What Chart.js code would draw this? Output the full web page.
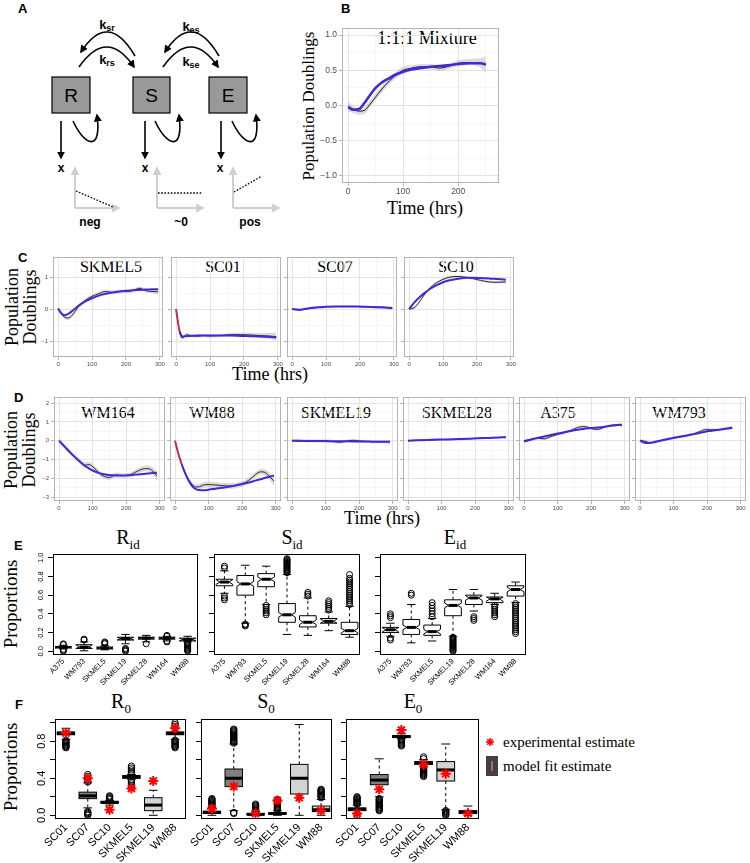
<!DOCTYPE html>
<html><head><meta charset="utf-8"><title>Figure</title>
<script src="https://cdn.jsdelivr.net/npm/chart.js@4.4.1/dist/chart.umd.min.js"></script>
<style>
html,body{margin:0;padding:0;background:#fff;}
#root{position:relative;width:750px;height:863px;overflow:hidden;background:#fff;font-family:"Liberation Sans",Arial,sans-serif;color:#000;}
#root canvas{position:absolute;}
.t{position:absolute;white-space:nowrap;line-height:1;}
.c{transform:translate(-50%,-50%);}
.v{transform:translate(-50%,-50%) rotate(-90deg);text-align:center;}
.serif{font-family:"Liberation Serif","Times New Roman",serif;}
.pl{font-weight:bold;font-size:13px;}
sub{font-size:65%;vertical-align:-0.35em;line-height:0;}
</style></head><body><div id="root">
<svg width="300" height="235" style="position:absolute;left:0;top:0" font-family="Liberation Sans, Arial, sans-serif">
<defs>
<marker id="ak" viewBox="0 0 10 10" refX="8" refY="5" markerWidth="5" markerHeight="5" orient="auto"><path d="M0,0L10,5L0,10z" fill="#000"/></marker>
<marker id="ag" viewBox="0 0 10 10" refX="8" refY="5" markerWidth="4.5" markerHeight="4.5" orient="auto"><path d="M0,0L10,5L0,10z" fill="#cfcfcf"/></marker>
</defs>
<text x="18" y="13" font-size="13" font-weight="bold">A</text>
<g fill="none" stroke="#000" stroke-width="1.6">
<path d="M135,56 Q108,10 81,52" marker-end="url(#ak)"/>
<path d="M79,67 Q107,27 134,67" marker-end="url(#ak)"/>
<path d="M219,56 Q192,10 165,52" marker-end="url(#ak)"/>
<path d="M163,67 Q191,27 218,67" marker-end="url(#ak)"/>
<path d="M61,121 L61,158" marker-end="url(#ak)"/>
<path d="M145,121 L145,158" marker-end="url(#ak)"/>
<path d="M221,121 L221,158" marker-end="url(#ak)"/>
<path d="M73,121 C85,147 102,152 97,115" marker-end="url(#ak)"/>
<path d="M155,121 C167,147 184,152 179,115" marker-end="url(#ak)"/>
<path d="M232,121 C244,147 261,152 256,115" marker-end="url(#ak)"/>
</g>
<g fill="#999" stroke="#000" stroke-width="1.2">
<rect x="52" y="77" width="38" height="36"/><rect x="133" y="77" width="37" height="36"/><rect x="209" y="77" width="38" height="36"/>
</g>
<g font-size="19" text-anchor="middle"><text x="71" y="102">R</text><text x="151.5" y="102">S</text><text x="228" y="102">E</text></g>
<g font-size="13" font-weight="bold" text-anchor="middle">
<text x="107" y="29">k<tspan font-size="9" dy="2">sr</tspan></text>
<text x="107" y="64">k<tspan font-size="9" dy="2">rs</tspan></text>
<text x="191" y="31">k<tspan font-size="9" dy="2">es</tspan></text>
<text x="191" y="66">k<tspan font-size="9" dy="2">se</tspan></text>
</g>
<g font-size="12" font-weight="bold" text-anchor="middle"><text x="61" y="172">x</text><text x="145" y="172">x</text><text x="220" y="172">x</text></g>
<g stroke="#cfcfcf" stroke-width="2" fill="none">
<path d="M75,208 L75,168" marker-end="url(#ag)"/><path d="M75,208 L119,208" marker-end="url(#ag)"/>
<path d="M157,208 L157,168" marker-end="url(#ag)"/><path d="M157,208 L203,208" marker-end="url(#ag)"/>
<path d="M233,208 L233,168" marker-end="url(#ag)"/><path d="M233,208 L279,208" marker-end="url(#ag)"/>
</g>
<g stroke="#000" stroke-width="1.3" stroke-dasharray="1.6,1.6" fill="none">
<path d="M76,191 L113,207"/><path d="M158,193 L202,193"/><path d="M234,192 L262,176"/>
</g>
<g font-size="12" font-weight="bold" text-anchor="middle"><text x="90" y="226">neg</text><text x="181" y="226">~0</text><text x="250" y="226">pos</text></g>
</svg>

<div class="t pl" style="left:341px;top:2px">B</div>
<div class="t pl" style="left:18px;top:251px">C</div>
<div class="t pl" style="left:14px;top:391px">D</div>
<div class="t pl" style="left:14px;top:539px">E</div>
<div class="t pl" style="left:15px;top:698px">F</div>

<div class="t serif c" style="left:427px;top:38px;font-size:18px">1:1:1 Mixture</div>
<div class="t serif v" style="left:308px;top:106px;font-size:17px">Population Doublings</div>
<div class="t serif c" style="left:425px;top:208px;font-size:18px">Time (hrs)</div>

<div class="t serif c" style="left:111px;top:267px;font-size:16px">SKMEL5</div>
<div class="t serif c" style="left:223px;top:267px;font-size:16px">SC01</div>
<div class="t serif c" style="left:335px;top:267px;font-size:16px">SC07</div>
<div class="t serif c" style="left:456px;top:267px;font-size:16px">SC10</div>
<div class="t serif v" style="left:21px;top:307px;font-size:18px">Population<br>Doublings</div>
<div class="t serif c" style="left:270px;top:374px;font-size:18px">Time (hrs)</div>

<div class="t serif c" style="left:108px;top:413px;font-size:16px">WM164</div>
<div class="t serif c" style="left:212px;top:413px;font-size:16px">WM88</div>
<div class="t serif c" style="left:336px;top:413px;font-size:16px">SKMEL19</div>
<div class="t serif c" style="left:457px;top:413px;font-size:16px">SKMEL28</div>
<div class="t serif c" style="left:558px;top:413px;font-size:16px">A375</div>
<div class="t serif c" style="left:679px;top:413px;font-size:16px">WM793</div>
<div class="t serif v" style="left:20px;top:450px;font-size:18px">Population<br>Doublings</div>
<div class="t serif c" style="left:382px;top:518px;font-size:18px">Time (hrs)</div>

<div class="t serif c" style="left:128px;top:537px;font-size:20px">R<sub>id</sub></div>
<div class="t serif c" style="left:292px;top:537px;font-size:20px">S<sub>id</sub></div>
<div class="t serif c" style="left:455px;top:537px;font-size:20px">E<sub>id</sub></div>
<div class="t serif v" style="left:10px;top:604px;font-size:19px">Proportions</div>

<div class="t serif c" style="left:121px;top:701px;font-size:20px">R<sub>0</sub></div>
<div class="t serif c" style="left:266px;top:701px;font-size:20px">S<sub>0</sub></div>
<div class="t serif c" style="left:413px;top:701px;font-size:20px">E<sub>0</sub></div>
<div class="t serif v" style="left:10px;top:767px;font-size:19px">Proportions</div>

<svg style="position:absolute;left:485px;top:737px" width="10" height="10"><g stroke="#ff0000" stroke-width="1.6"><line x1="5" y1="1" x2="5" y2="9"/><line x1="1" y1="5" x2="9" y2="5"/><line x1="2.2" y1="2.2" x2="7.8" y2="7.8"/><line x1="7.8" y1="2.2" x2="2.2" y2="7.8"/></g></svg>
<div class="t serif" style="left:503px;top:742px;font-size:15px;transform:translateY(-50%)">experimental estimate</div>
<svg style="position:absolute;left:486px;top:756px" width="12" height="20"><rect x="0" y="0" width="12" height="20" fill="#4b3d3d"/><line x1="6" y1="5" x2="6" y2="15" stroke="#bbb" stroke-width="1"/></svg>
<div class="t serif" style="left:503px;top:766px;font-size:15px;transform:translateY(-50%)">model fit estimate</div>
</div>
<script>
Chart.defaults.font.family = '"Liberation Sans", Arial, sans-serif';
const root = document.getElementById('root');

// ================= DATA =================
// Panel B: 1:1:1 mixture
const timeB = [0,10,20,30,40,50,60,75,90,100,115,130,150,165,180,200,220,240,250];
const obsB  = [-0.02,-0.06,-0.08,-0.07,0.02,0.12,0.22,0.35,0.45,0.5,0.53,0.55,0.55,0.53,0.55,0.6,0.61,0.6,0.58];
const fitB  = [-0.02,-0.06,-0.05,0.04,0.15,0.25,0.32,0.39,0.45,0.48,0.51,0.53,0.55,0.56,0.57,0.59,0.6,0.6,0.58];
const loB   = [-0.08,-0.11,-0.13,-0.12,-0.03,0.07,0.17,0.3,0.4,0.45,0.49,0.51,0.51,0.49,0.51,0.56,0.57,0.54,0.47];
const hiB   = [0.05,-0.01,-0.04,-0.02,0.07,0.17,0.27,0.4,0.5,0.55,0.57,0.59,0.59,0.57,0.59,0.64,0.66,0.67,0.7];
const bXTicks = [0,100,200], bXMinor = [50,150,250];
const bYTicks = [-1,-0.5,0,0.5,1], bYMinor = [-0.75,-0.25,0.25,0.75];

// Panel C
const cNames = ['SKMEL5','SC01','SC07','SC10'];
const tSKMEL5 = [0,10,20,30,45,60,80,100,120,140,160,180,200,220,240,260,280,295];
const obsSKMEL5 = [0.02,-0.15,-0.26,-0.28,-0.15,0.08,0.27,0.4,0.48,0.55,0.52,0.55,0.55,0.58,0.65,0.57,0.55,0.54];
const fitSKMEL5 = [0.02,-0.14,-0.19,-0.15,-0.03,0.1,0.24,0.34,0.42,0.48,0.52,0.55,0.57,0.59,0.6,0.61,0.62,0.62];
const loSKMEL5 = [-0.05,-0.21,-0.32,-0.34,-0.21,0.02,0.21,0.34,0.42,0.49,0.46,0.49,0.49,0.52,0.59,0.51,0.49,0.46];
const hiSKMEL5 = [0.09,-0.09,-0.2,-0.22,-0.09,0.14,0.33,0.46,0.54,0.61,0.58,0.61,0.61,0.64,0.71,0.63,0.61,0.62];
const tSC01 = [0,5,10,15,20,30,40,60,80,100,130,160,190,220,250,270,295];
const obsSC01 = [0,-0.35,-0.7,-0.88,-0.9,-0.8,-0.82,-0.85,-0.83,-0.84,-0.83,-0.8,-0.8,-0.81,-0.83,-0.84,-0.86];
const fitSC01 = [0,-0.38,-0.68,-0.82,-0.86,-0.85,-0.84,-0.83,-0.83,-0.83,-0.83,-0.83,-0.84,-0.85,-0.86,-0.87,-0.89];
const loSC01 = [-0.05,-0.4,-0.75,-0.93,-0.95,-0.85,-0.87,-0.9,-0.88,-0.89,-0.88,-0.85,-0.86,-0.88,-0.91,-0.94,-0.99];
const hiSC01 = [0.05,-0.3,-0.65,-0.83,-0.85,-0.75,-0.77,-0.8,-0.78,-0.79,-0.78,-0.75,-0.74,-0.74,-0.75,-0.74,-0.73];
const tSC07 = [0,20,40,60,80,100,130,160,190,220,250,275,295];
const obsSC07 = [0,-0.03,0.0,0.03,0.06,0.08,0.08,0.08,0.08,0.07,0.06,0.05,0.03];
const fitSC07 = [0,-0.02,0.01,0.04,0.06,0.07,0.08,0.08,0.08,0.07,0.06,0.05,0.03];
const loSC07 = [-0.04,-0.06,-0.03,0.0,0.03,0.05,0.05,0.05,0.05,0.04,0.02,0.0,-0.04];
const hiSC07 = [0.04,0.0,0.03,0.06,0.09,0.11,0.11,0.11,0.11,0.1,0.1,0.1,0.1];
const tSC10 = [0,15,30,45,60,80,100,120,145,170,190,210,235,260,285];
const obsSC10 = [0,0.04,0.22,0.45,0.64,0.82,0.93,1.0,1.02,0.99,0.95,0.9,0.85,0.84,0.85];
const fitSC10 = [0,0.2,0.36,0.5,0.62,0.74,0.84,0.9,0.95,0.98,0.98,0.97,0.96,0.94,0.92];
const loSC10 = [-0.03,0.0,0.18,0.41,0.6,0.78,0.89,0.96,0.98,0.95,0.91,0.86,0.81,0.8,0.8];
const hiSC10 = [0.03,0.08,0.26,0.49,0.68,0.86,0.97,1.04,1.06,1.03,0.99,0.94,0.89,0.88,0.9];
const lineXTicks = [0,100,200,300], lineXMinor = [50,150,250];
const cYTicks = [-1,0,1], cYMinor = [-1.5,-0.5,0.5,1.5];

// Panel D
const dNames = ['WM164','WM88','SKMEL19','SKMEL28','A375','WM793'];
const tWM164 = [0,20,40,60,75,90,105,120,135,150,170,190,210,230,250,265,280,292];
const obsWM164 = [0,-0.35,-0.72,-1.05,-1.3,-1.27,-1.45,-1.72,-1.9,-1.95,-1.82,-1.85,-1.82,-1.65,-1.5,-1.48,-1.62,-1.88];
const fitWM164 = [0,-0.38,-0.75,-1.08,-1.3,-1.48,-1.62,-1.72,-1.78,-1.82,-1.84,-1.85,-1.83,-1.8,-1.77,-1.74,-1.72,-1.7];
const loWM164 = [-0.15,-0.47,-0.83,-1.17,-1.45,-1.42,-1.58,-1.85,-2.03,-2.08,-1.95,-1.97,-1.95,-1.79,-1.65,-1.64,-1.8,-2.1];
const hiWM164 = [0.15,-0.23,-0.61,-0.93,-1.15,-1.12,-1.32,-1.59,-1.77,-1.82,-1.69,-1.73,-1.69,-1.51,-1.35,-1.32,-1.44,-1.66];
const tWM88 = [0,10,20,30,40,50,60,70,85,100,120,140,160,180,200,220,240,255,270,285,295];
const obsWM88 = [0,-0.7,-1.25,-1.7,-2.05,-2.3,-2.45,-2.45,-2.35,-2.33,-2.35,-2.38,-2.4,-2.38,-2.3,-2.1,-1.8,-1.65,-1.7,-1.95,-2.15];
const fitWM88 = [0,-0.7,-1.25,-1.72,-2.1,-2.38,-2.55,-2.62,-2.63,-2.6,-2.55,-2.5,-2.45,-2.38,-2.3,-2.22,-2.12,-2.05,-1.97,-1.9,-1.85];
const loWM88 = [-0.08,-0.78,-1.33,-1.8,-2.15,-2.42,-2.58,-2.6,-2.5,-2.48,-2.5,-2.53,-2.55,-2.53,-2.45,-2.25,-1.95,-1.8,-1.87,-2.15,-2.4];
const hiWM88 = [0.08,-0.62,-1.17,-1.6,-1.95,-2.18,-2.32,-2.3,-2.2,-2.18,-2.2,-2.23,-2.25,-2.23,-2.15,-1.95,-1.65,-1.5,-1.53,-1.75,-1.9];
const tSKMEL19 = [0,20,40,60,80,100,120,140,160,180,200,220,240,260,280,292];
const obsSKMEL19 = [0,0.02,0.0,-0.02,-0.02,-0.02,-0.04,-0.08,-0.04,0.02,-0.01,-0.04,-0.05,-0.05,-0.05,-0.06];
const fitSKMEL19 = [0,-0.01,-0.01,-0.02,-0.02,-0.02,-0.03,-0.03,-0.03,-0.04,-0.04,-0.04,-0.05,-0.05,-0.05,-0.06];
const loSKMEL19 = [-0.08,-0.06,-0.08,-0.1,-0.1,-0.1,-0.12,-0.16,-0.12,-0.06,-0.09,-0.12,-0.13,-0.13,-0.14,-0.16];
const hiSKMEL19 = [0.08,0.1,0.08,0.06,0.06,0.06,0.04,0.0,0.04,0.1,0.07,0.04,0.03,0.03,0.04,0.06];
const tSKMEL28 = [0,30,60,90,120,150,180,210,240,270,292];
const obsSKMEL28 = [0,0.02,0.03,0.05,0.07,0.08,0.1,0.13,0.15,0.17,0.19];
const fitSKMEL28 = [0,0.02,0.04,0.06,0.07,0.09,0.11,0.13,0.15,0.17,0.19];
const loSKMEL28 = [-0.03,-0.01,0.0,0.02,0.04,0.05,0.07,0.1,0.12,0.14,0.15];
const hiSKMEL28 = [0.03,0.05,0.06,0.08,0.1,0.11,0.13,0.16,0.18,0.2,0.23];
const tA375 = [0,20,40,60,80,100,120,140,160,175,190,205,220,240,260,280,292];
const obsA375 = [0,0.08,0.13,0.1,0.22,0.33,0.42,0.55,0.7,0.75,0.72,0.62,0.6,0.72,0.82,0.85,0.82];
const fitA375 = [-0.05,0.05,0.14,0.22,0.3,0.38,0.45,0.52,0.58,0.62,0.66,0.68,0.7,0.74,0.79,0.83,0.85];
const loA375 = [-0.07,0.01,0.06,0.03,0.15,0.26,0.35,0.48,0.63,0.68,0.65,0.55,0.53,0.65,0.75,0.78,0.72];
const hiA375 = [0.07,0.15,0.2,0.17,0.29,0.4,0.49,0.62,0.77,0.82,0.79,0.69,0.67,0.79,0.89,0.92,0.92];
const tWM793 = [0,15,30,45,60,80,100,120,140,160,180,195,210,230,250,275];
const obsWM793 = [0.02,-0.03,-0.1,-0.08,0.0,0.07,0.14,0.2,0.27,0.36,0.5,0.59,0.58,0.58,0.62,0.72];
const fitWM793 = [0,-0.12,-0.12,-0.06,0.0,0.08,0.16,0.22,0.28,0.35,0.42,0.48,0.52,0.57,0.62,0.68];
const loWM793 = [-0.05,-0.1,-0.17,-0.15,-0.07,0.0,0.07,0.13,0.2,0.29,0.43,0.52,0.51,0.51,0.55,0.62];
const hiWM793 = [0.09,0.04,-0.03,-0.01,0.07,0.14,0.21,0.27,0.34,0.43,0.57,0.66,0.65,0.65,0.69,0.8];
const dYTicks = [-3,-2,-1,0,1,2], dYMinor = [-2.5,-1.5,-0.5,0.5,1.5];

// Panel E (boxplot statistics)
const eCats = ['A375','WM793','SKMEL5','SKMEL19','SKMEL28','WM164','WM88'];
const Rid_q1  = [0.035,0.03,0.025,0.12,0.13,0.13,0.11];
const Rid_med = [0.045,0.045,0.035,0.135,0.14,0.14,0.125];
const Rid_q3  = [0.05,0.07,0.045,0.15,0.15,0.15,0.14];
const Rid_lo  = [0.025,0.005,0.015,0.08,0.1,0.11,0.1];
const Rid_hi  = [0.065,0.1,0.06,0.18,0.17,0.16,0.16];
const Rid_out = [[0.0,0.01,0.02,0.07,0.08],[0.12,0.13],[0.08,0.09,0.1],[0.0,0.01,0.02,0.03],[0.08],[0.1,0.11,0.16,0.17],[0.0,0.01,0.02,0.03,0.04,0.05,0.06,0.07,0.08,0.09]];
const Sid_q1  = [0.7,0.6,0.69,0.31,0.26,0.3,0.18];
const Sid_med = [0.74,0.72,0.77,0.39,0.31,0.32,0.22];
const Sid_q3  = [0.77,0.81,0.83,0.51,0.38,0.35,0.31];
const Sid_lo  = [0.62,0.3,0.5,0.18,0.17,0.22,0.15];
const Sid_hi  = [0.86,0.92,0.91,0.82,0.57,0.42,0.48];
const Sid_out = [[0.55,0.57,0.59,0.89,0.91],[0.27,0.28,0.29],[0.39,0.41,0.43,0.45,0.47,0.49],[0.84,0.85,0.86,0.87,0.88,0.89,0.9,0.91,0.92,0.93,0.94,0.95,0.96,0.97,0.98,0.99],[0.59,0.61,0.63],[0.44,0.46,0.48,0.5,0.52,0.54],[0.5,0.52,0.54,0.56,0.58,0.6,0.62,0.64,0.66,0.68,0.7,0.72,0.74,0.76,0.78,0.82]];
const Eid_q1  = [0.2,0.18,0.17,0.38,0.5,0.52,0.59];
const Eid_med = [0.23,0.255,0.21,0.49,0.57,0.56,0.66];
const Eid_q3  = [0.255,0.34,0.28,0.55,0.6,0.58,0.7];
const Eid_lo  = [0.16,0.09,0.11,0.16,0.43,0.5,0.52];
const Eid_hi  = [0.3,0.5,0.35,0.66,0.66,0.62,0.74];
const Eid_out = [[0.12,0.14,0.36,0.38,0.4],[0.6,0.62],[0.37,0.4,0.43,0.46,0.49,0.52],[0.0,0.01,0.02,0.03,0.04,0.05,0.06,0.07,0.08,0.09,0.1,0.11,0.12,0.13,0.14,0.15],[0.33,0.35,0.37],[0.37,0.39,0.41,0.43,0.45,0.47,0.49],[0.19,0.21,0.23,0.25,0.27,0.29,0.31,0.33,0.35,0.37,0.39,0.41,0.43,0.45,0.47,0.49,0.51]];

// Panel F
const fCats = ['SC01','SC07','SC10','SKMEL5','SKMEL19','WM88'];
const fFill = ['#808080','#808080','#808080','#808080','#d3d3d3','#d3d3d3'];
const R0_q1  = [0.87,0.18,0.13,0.4,0.05,0.87];
const R0_med = [0.885,0.21,0.14,0.415,0.11,0.885];
const R0_q3  = [0.9,0.25,0.15,0.43,0.19,0.9];
const R0_lo  = [0.82,0.08,0.11,0.39,0.0,0.82];
const R0_hi  = [0.94,0.35,0.16,0.44,0.27,0.94];
const R0_out = [[0.73,0.74,0.75,0.76,0.77,0.78,0.79,0.8,0.81],[0.0,0.01,0.02,0.03,0.04,0.36,0.38,0.4,0.42,0.44],[0.17,0.18,0.19,0.2,0.21],[0.3,0.32,0.34,0.36,0.38,0.45,0.47,0.49,0.51,0.53],[],[0.73,0.74,0.75,0.76,0.77,0.78,0.79,0.8,0.81,0.96,0.98,1.0]];
const R0_exp = [0.89,0.40,0.06,0.29,0.37,0.94];
const S0_q1  = [0.02,0.31,0.005,0.01,0.23,0.04];
const S0_med = [0.03,0.4,0.01,0.02,0.4,0.06];
const S0_q3  = [0.045,0.5,0.02,0.03,0.55,0.1];
const S0_lo  = [0.0,0.05,0.0,0.0,0.0,0.0];
const S0_hi  = [0.08,0.77,0.04,0.05,0.98,0.17];
const S0_out = [[0.09,0.1,0.11,0.12,0.13,0.14,0.15,0.16,0.17,0.18],[0.02,0.03,0.78,0.79,0.8,0.81,0.82,0.83,0.84,0.85,0.86,0.87,0.88,0.89,0.9,0.91,0.92,0.93],[0.04,0.05,0.06,0.07,0.08,0.09,0.1,0.11,0.12],[0.06,0.07,0.08,0.09,0.1,0.11,0.12,0.13,0.14,0.15,0.16,0.17],[],[0.19,0.2,0.21,0.22,0.23,0.24,0.25,0.26,0.27,0.28]];
const S0_exp = [0.07,0.31,0.02,0.16,0.19,0.05];
const E0_q1  = [0.05,0.33,0.84,0.55,0.37,0.02];
const E0_med = [0.065,0.38,0.85,0.565,0.49,0.035];
const E0_q3  = [0.08,0.44,0.86,0.58,0.58,0.05];
const E0_lo  = [0.02,0.2,0.83,0.53,0.06,0.0];
const E0_hi  = [0.11,0.61,0.88,0.6,0.77,0.1];
const E0_out = [[0.0,0.12,0.13,0.14,0.15,0.16,0.17,0.18,0.19,0.2],[0.05,0.06,0.07,0.08,0.09,0.1,0.11,0.12,0.13,0.14,0.15,0.16,0.17,0.18],[0.75,0.76,0.77,0.78,0.79,0.8,0.81,0.82],[0.42,0.43,0.44,0.45,0.46,0.47,0.48,0.49,0.5,0.51,0.52,0.61,0.63],[0.0,0.01,0.02,0.03,0.04,0.05],[]];
const E0_exp = [0.02,0.28,0.92,0.55,0.45,0.02];
const boxYTicks = [0,0.2,0.4,0.6,0.8,1.0];
const eYLabels = ['0.0','0.2','0.4','0.6','0.8','1.0'];
const fYLabels = ['0.0','','0.4','','0.8',''];

// ================= HELPERS =================
function mkCanvas(area, pad){
  const c = document.createElement('canvas');
  const w = area.r-area.l+pad.l+pad.r, h = area.b-area.t+pad.t+pad.b;
  c.width=w; c.height=h; c.style.width=w+'px'; c.style.height=h+'px';
  c.style.left=(area.l-pad.l)+'px'; c.style.top=(area.t-pad.t)+'px';
  root.appendChild(c); return c;
}
function isIn(arr,v){ return arr.some(a=>Math.abs(a-v)<1e-9); }
function minusFmt(v,dec){ const s=Math.abs(v).toFixed(dec); return v<-1e-9?'\u2212'+s:s; }
function framePlugin(color,w){
  return {id:'frame',afterDatasetsDraw(chart){
    const a=chart.chartArea,ctx=chart.ctx; ctx.save(); ctx.strokeStyle=color; ctx.lineWidth=w;
    ctx.strokeRect(Math.round(a.left)+0.5,Math.round(a.top)+0.5,Math.round(a.right-a.left)-1,Math.round(a.bottom-a.top)-1);
    ctx.restore();}};
}
const GRID_MAJ='#e3e3e3', GRID_MIN='#f1f1f1', FRAME='#b3b3b3';
const baseOpts = {responsive:false,animation:false,devicePixelRatio:1,events:[],plugins:{legend:{display:false},tooltip:{enabled:false}}};

function lineChart(area,pad,s,o){
  const cv=mkCanvas(area,pad);
  const P=(t,v)=>t.map((x,i)=>({x:x,y:v[i]}));
  const common={pointRadius:0,cubicInterpolationMode:'monotone',fill:false};
  const fitDs=Object.assign({},common,{data:P(s.t,s.fit),borderColor:'#3d2bd9',borderWidth:o.fitW});
  if(s.red) fitDs.segment={borderColor:c=>c.p0DataIndex<s.red?'#c2305f':undefined};
  const ds=[fitDs,
    Object.assign({},common,{data:P(s.t,s.obs),borderColor:'#1a1a1a',borderWidth:o.obsW}),
    Object.assign({},common,{data:P(s.t,s.lo),borderWidth:0,borderColor:'rgba(0,0,0,0)'}),
    Object.assign({},common,{data:P(s.t,s.hi),borderWidth:0,borderColor:'rgba(0,0,0,0)',fill:'-1',backgroundColor:'rgba(170,170,170,0.42)'})];
  const xAll=o.xMaj.concat(o.xMin).sort((a,b)=>a-b), yAll=o.yMaj.concat(o.yMin).sort((a,b)=>a-b);
  const gridOpt=maj=>({
    color:c=>(c.tick&&isIn(maj,c.tick.value))?GRID_MAJ:GRID_MIN,
    lineWidth:c=>(c.tick&&isIn(maj,c.tick.value))?1:0.6,
    tickLength:3, drawTicks:true,
    tickColor:c=>(c.tick&&isIn(maj,c.tick.value))?FRAME:'rgba(0,0,0,0)'});
  new Chart(cv,{type:'line',data:{datasets:ds},options:Object.assign({},baseOpts,{
    layout:{padding:{top:pad.t,right:pad.r,left:0,bottom:0}},
    scales:{
      x:{type:'linear',min:o.xmin,max:o.xmax,
        afterBuildTicks:sc=>{sc.ticks=xAll.map(v=>({value:v}));},
        afterFit:sc=>{sc.height=pad.b;sc.paddingLeft=0;sc.paddingRight=0;},
        ticks:{autoSkip:false,maxRotation:0,minRotation:0,padding:1,color:'#4d4d4d',font:{size:o.fs},callback:v=>isIn(o.xMaj,v)?minusFmt(v,0):''},
        grid:gridOpt(o.xMaj),border:{display:false}},
      y:{type:'linear',min:o.ymin,max:o.ymax,
        afterBuildTicks:sc=>{sc.ticks=yAll.map(v=>({value:v}));},
        afterFit:sc=>{sc.width=pad.l;sc.paddingTop=0;sc.paddingBottom=0;},
        ticks:{display:o.showY,autoSkip:false,padding:2,color:'#4d4d4d',font:{size:o.fs},callback:v=>isIn(o.yMaj,v)?minusFmt(v,o.dec):''},
        grid:gridOpt(o.yMaj),border:{display:false}}
    }}),
    plugins:[framePlugin(FRAME,1)]});
}

function boxChart(area,pad,cats,st,out,stars,o){
  const cv=mkCanvas(area,pad);
  const outPts=[]; out.forEach((arr,i)=>arr.forEach(v=>outPts.push({x:i+1,y:v})));
  const ds=[];
  if(stars) ds.push({data:stars.map((v,i)=>({x:i+1,y:v})),pointStyle:'star',pointRadius:o.starR,pointBorderColor:'#ff0000',pointBackgroundColor:'#ff0000',pointBorderWidth:2});
  ds.push({data:outPts,pointStyle:'circle',pointRadius:o.outR,pointBorderColor:'#000',pointBackgroundColor:'rgba(0,0,0,0)',pointBorderWidth:1});
  const boxes={id:'boxes',beforeDatasetsDraw(chart){
    const ctx=chart.ctx, X=chart.scales.x, Y=chart.scales.y;
    const bw=(X.getPixelForValue(2)-X.getPixelForValue(1))*0.8, hw=bw/2;
    for(let i=0;i<cats.length;i++){
      const cx=X.getPixelForValue(i+1);
      const y1=Y.getPixelForValue(st.q1[i]), y3=Y.getPixelForValue(st.q3[i]), ym=Y.getPixelForValue(st.med[i]);
      const yl=Y.getPixelForValue(st.lo[i]), yh=Y.getPixelForValue(st.hi[i]);
      ctx.save(); ctx.strokeStyle='#000'; ctx.lineWidth=1;
      ctx.setLineDash([3,3]); ctx.beginPath(); ctx.moveTo(cx,y3); ctx.lineTo(cx,yh); ctx.moveTo(cx,y1); ctx.lineTo(cx,yl); ctx.stroke();
      ctx.setLineDash([]); ctx.beginPath();
      ctx.moveTo(cx-bw/4,yh); ctx.lineTo(cx+bw/4,yh); ctx.moveTo(cx-bw/4,yl); ctx.lineTo(cx+bw/4,yl); ctx.stroke();
      ctx.fillStyle=st.fill?st.fill[i]:'#fff';
      let mw=hw;
      if(o.notch){
        const nlo=Y.getPixelForValue(Math.max(st.q1[i],st.med[i]-o.notch));
        const nhi=Y.getPixelForValue(Math.min(st.q3[i],st.med[i]+o.notch));
        mw=hw*0.55;
        ctx.beginPath();
        ctx.moveTo(cx-hw,y1); ctx.lineTo(cx-hw,nlo); ctx.lineTo(cx-mw,ym); ctx.lineTo(cx-hw,nhi); ctx.lineTo(cx-hw,y3);
        ctx.lineTo(cx+hw,y3); ctx.lineTo(cx+hw,nhi); ctx.lineTo(cx+mw,ym); ctx.lineTo(cx+hw,nlo); ctx.lineTo(cx+hw,y1); ctx.closePath();
        ctx.fill(); ctx.stroke();
      } else {
        ctx.fillRect(cx-hw,y3,bw,y1-y3); ctx.strokeRect(cx-hw,y3,bw,y1-y3);
      }
      ctx.lineWidth=3; ctx.beginPath(); ctx.moveTo(cx-mw,ym); ctx.lineTo(cx+mw,ym); ctx.stroke();
      ctx.restore();
    }}};
  const ylab={id:'ylab',afterDraw(chart){
    if(!o.yLabels) return;
    const ctx=chart.ctx, Y=chart.scales.y, a=chart.chartArea;
    ctx.save(); ctx.font=o.yfs+'px "Liberation Sans", Arial, sans-serif'; ctx.fillStyle='#000'; ctx.textAlign='center'; ctx.textBaseline='bottom';
    boxYTicks.forEach((v,i)=>{ const lab=o.yLabels[i]; if(!lab) return; ctx.save(); ctx.translate(a.left-o.yoff,Y.getPixelForValue(v)); ctx.rotate(-Math.PI/2); ctx.fillText(lab,0,0); ctx.restore(); });
    ctx.restore();}};
  new Chart(cv,{type:'scatter',data:{datasets:ds},options:Object.assign({},baseOpts,{
    layout:{padding:{top:pad.t,right:pad.r,left:0,bottom:0}},
    scales:{
      x:{type:'linear',min:0.5,max:cats.length+0.5,
        afterBuildTicks:sc=>{sc.ticks=cats.map((c,i)=>({value:i+1}));},
        afterFit:sc=>{sc.height=pad.b;sc.paddingLeft=0;sc.paddingRight=0;},
        ticks:{autoSkip:false,minRotation:45,maxRotation:45,padding:o.xpad,color:'#000',font:{size:o.xfs},callback:v=>cats[Math.round(v)-1]},
        grid:{display:false,drawTicks:false},border:{display:false}},
      y:{type:'linear',min:-0.04,max:1.04,
        afterBuildTicks:sc=>{sc.ticks=boxYTicks.map(v=>({value:v}));},
        afterFit:sc=>{sc.width=pad.l;sc.paddingTop=0;sc.paddingBottom=0;},
        ticks:{display:false},
        grid:{drawOnChartArea:false,drawTicks:true,tickLength:5,tickColor:'#000',color:'#000'},border:{display:false}}
    }}),
    plugins:[boxes,ylab,framePlugin('#000',1)]});
}

// ================= BUILD =================
// B
lineChart({l:342,t:28,r:499,b:183},{l:44,t:4,r:10,b:16},
  {t:timeB,obs:obsB,fit:fitB,lo:loB,hi:hiB},
  {xmin:-11,xmax:274,ymin:-1.1,ymax:1.1,xMaj:bXTicks,xMin:bXMinor,yMaj:bYTicks,yMin:bYMinor,showY:true,dec:1,fs:8.5,fitW:2.6,obsW:1});

// C
const cSeries=[
  {t:tSKMEL5,obs:obsSKMEL5,fit:fitSKMEL5,lo:loSKMEL5,hi:hiSKMEL5},
  {t:tSC01,obs:obsSC01,fit:fitSC01,lo:loSC01,hi:hiSC01,red:2},
  {t:tSC07,obs:obsSC07,fit:fitSC07,lo:loSC07,hi:hiSC07},
  {t:tSC10,obs:obsSC10,fit:fitSC10,lo:loSC10,hi:hiSC10}];
const cLefts=[53,171,287,404];
cSeries.forEach((s,i)=>{
  lineChart({l:cLefts[i],t:257,r:cLefts[i]+110,b:357},{l:i===0?16:5,t:2,r:7,b:12},s,
    {xmin:-15,xmax:309,ymin:-1.5,ymax:1.63,xMaj:lineXTicks,xMin:lineXMinor,yMaj:cYTicks,yMin:cYMinor,showY:i===0,dec:0,fs:6,fitW:2,obsW:0.9});
});

// D
const dSeries=[
  {t:tWM164,obs:obsWM164,fit:fitWM164,lo:loWM164,hi:hiWM164},
  {t:tWM88,obs:obsWM88,fit:fitWM88,lo:loWM88,hi:hiWM88,red:2},
  {t:tSKMEL19,obs:obsSKMEL19,fit:fitSKMEL19,lo:loSKMEL19,hi:hiSKMEL19},
  {t:tSKMEL28,obs:obsSKMEL28,fit:fitSKMEL28,lo:loSKMEL28,hi:hiSKMEL28},
  {t:tA375,obs:obsA375,fit:fitA375,lo:loA375,hi:hiA375},
  {t:tWM793,obs:obsWM793,fit:fitWM793,lo:loWM793,hi:hiWM793}];
const dLefts=[54,170,287,403,519,635];
dSeries.forEach((s,i)=>{
  lineChart({l:dLefts[i],t:397,r:dLefts[i]+111,b:501},{l:i===0?16:5,t:2,r:i===5?4:7,b:12},s,
    {xmin:-15,xmax:316,ymin:-3.2,ymax:2.32,xMaj:lineXTicks,xMin:lineXMinor,yMaj:dYTicks,yMin:dYMinor,showY:i===0,dec:0,fs:6,fitW:2,obsW:0.9});
});

// E
const eAreas=[{l:53,t:553,r:199,b:655},{l:214,t:553,r:361,b:655},{l:380,t:553,r:527,b:655}];
const eStats=[
  {q1:Rid_q1,med:Rid_med,q3:Rid_q3,lo:Rid_lo,hi:Rid_hi},
  {q1:Sid_q1,med:Sid_med,q3:Sid_q3,lo:Sid_lo,hi:Sid_hi},
  {q1:Eid_q1,med:Eid_med,q3:Eid_q3,lo:Eid_lo,hi:Eid_hi}];
const eOut=[Rid_out,Sid_out,Eid_out];
eAreas.forEach((a,i)=>{
  boxChart(a,{l:i===0?32:10,t:4,r:4,b:40},eCats,eStats[i],eOut[i],null,
    {outR:3,starR:0,xfs:7.5,xpad:2,yLabels:i===0?eYLabels:null,yfs:7.5,yoff:8,notch:0.025});
});

// F
const fAreas=[{l:55,t:716,r:189,b:819},{l:201,t:716,r:335,b:819},{l:346,t:716,r:482,b:819}];
const fStats=[
  {q1:R0_q1,med:R0_med,q3:R0_q3,lo:R0_lo,hi:R0_hi,fill:fFill},
  {q1:S0_q1,med:S0_med,q3:S0_q3,lo:S0_lo,hi:S0_hi,fill:fFill},
  {q1:E0_q1,med:E0_med,q3:E0_q3,lo:E0_lo,hi:E0_hi,fill:fFill}];
const fOut=[R0_out,S0_out,E0_out];
const fExp=[R0_exp,S0_exp,E0_exp];
fAreas.forEach((a,i)=>{
  boxChart(a,{l:i===0?34:14,t:4,r:4,b:44},fCats,fStats[i],fOut[i],fExp[i],
    {outR:3.2,starR:5,xfs:11,xpad:2,yLabels:i===0?fYLabels:null,yfs:11,yoff:8,notch:0});
});
</script></body></html>
